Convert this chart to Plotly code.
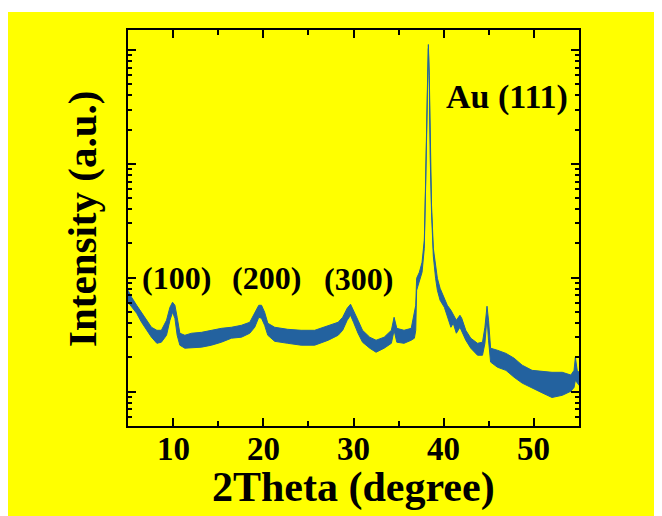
import plotly.graph_objects as go

# ---- data (2Theta in degrees, intensity in a.u.) ----
two_theta = [5.0, 5.4, 5.96, 6.5, 7.07, 7.6, 8.2, 8.7, 9.27, 9.65, 9.94, 10.2, 10.45, 10.75,
             11.3, 12.05, 13.15, 14.25, 15.36, 16.47, 17.58, 18.5, 19.05, 19.5, 19.8, 20.15,
             20.5, 21.26, 22.7, 24.2, 25.7, 27.2, 28.3, 28.8, 29.3, 29.67, 30.0, 30.5, 31.0,
             31.8, 32.5, 33.4, 34.2, 34.5, 34.8, 35.6, 36.4, 36.75, 36.9, 37.0, 37.3, 37.6,
             37.85, 38.0, 38.1, 38.2, 38.3, 38.4, 38.5, 38.65, 38.85, 39.1, 39.3, 39.6, 40.07,
             40.4, 40.8, 41.06, 41.4, 41.8, 42.0, 42.45, 43.0, 43.75, 44.3, 44.57, 44.8, 44.97,
             45.2, 45.96, 46.9, 47.8, 48.7, 49.8, 51.0, 52.0, 53.15, 54.1, 54.45, 54.6, 54.8, 55.0]

intensity_upper = [77.7, 67.4, 57.4, 49.8, 42.4, 36.8, 34.6, 34.6, 42.4, 55.1, 61.0, 57.4, 45.0, 32.6,
                   31.3, 32.6, 33.2, 34.6, 36.0, 36.8, 38.3, 40.7, 48.8, 57.4, 57.4, 49.8,
                   39.9, 36.8, 35.3, 34.6, 34.6, 38.3, 40.7, 45.0, 54.0, 58.6, 51.9, 42.4, 34.6,
                   30.1, 28.3, 30.1, 34.6, 45.0, 36.0, 34.6, 36.0, 48.8, 57.4, 99.0, 111.8, 136.8,
                   213.3, 648, 1778, 5401, 11160, 5973, 1315, 433, 181.4, 121.2, 99.0, 80.9, 66.1,
                   57.4, 51.9, 46.9, 42.4, 46.9, 44.1, 34.6, 29.5, 26.6, 27.2, 36.8, 56.3, 42.4,
                   24.1, 23.1, 21.7, 19.7, 17.1, 15.4, 15.1, 14.8, 14.8, 14.0, 15.4, 20.1, 15.4, 14.8]

intensity_lower = [61.0, 55.1, 48.8, 40.7, 34.6, 30.1, 26.6, 27.2, 31.3, 42.4, 49.8, 44.1, 31.3, 25.6,
                   24.1, 24.1, 24.6, 25.6, 27.2, 29.5, 30.1, 32.6, 36.8, 45.0, 44.1, 38.3,
                   31.3, 27.7, 26.6, 25.6, 25.6, 28.3, 31.3, 34.6, 42.4, 46.9, 40.7, 32.6, 27.2,
                   24.1, 22.2, 24.1, 26.6, 34.6, 27.2, 26.6, 28.3, 29.5, 34.6, 77.7, 91.3, 111.8,
                   181.4, 585, 1607, 4883, 10295, 5401, 1188, 376, 154.5, 99.0, 77.7, 63.5, 55.1,
                   45.0, 36.8, 39.9, 32.6, 36.8, 34.6, 28.3, 24.1, 20.9, 20.9, 26.6, 45.0, 28.3,
                   18.2, 16.4, 15.4, 13.4, 11.9, 10.7, 9.7, 8.9, 9.3, 10.1, 10.9, 12.6, 11.9, 11.4]

x_ticks = [10, 20, 30, 40, 50]
x_tick_labels = ["10", "20", "30", "40", "50"]
x_minor = [15, 25, 35, 45, 55]
y_major = [10, 100, 1000, 10000]
y_minor = [m * d for d in (1, 10, 100, 1000) for m in range(2, 10)]

peak_labels = ["(100)", "(200)", "(300)", "Au (111)"]

BLUE = "#23629F"
YELLOW = "#FFFF00"
FONT = "Liberation Serif"

fig = go.Figure()
fig.add_trace(go.Scatter(
    x=two_theta + two_theta[::-1],
    y=intensity_upper + intensity_lower[::-1],
    mode="lines", fill="toself", fillcolor=BLUE,
    line=dict(color=BLUE, width=1),
    hoverinfo="skip", showlegend=False,
))

fig.update_layout(
    width=662, height=516,
    margin=dict(l=120, r=91, t=22, b=98),
    paper_bgcolor=YELLOW,
    plot_bgcolor=YELLOW,
    showlegend=False,
    xaxis=dict(
        range=[5, 55], tickmode="array", tickvals=x_ticks, showticklabels=False,
        ticks="inside", ticklen=8, tickwidth=2, tickcolor="black",
        showline=True, linecolor="black", linewidth=2, mirror="ticks",
        showgrid=False, zeroline=False,
        minor=dict(tickmode="array", tickvals=x_minor,
                   ticks="inside", ticklen=5, tickwidth=2, tickcolor="black", showgrid=False),
    ),
    yaxis=dict(
        type="log", range=[0.699, 4.175], tickmode="array", tickvals=y_major,
        showticklabels=False,
        ticks="inside", ticklen=8, tickwidth=2, tickcolor="black",
        showline=True, linecolor="black", linewidth=2, mirror="ticks",
        showgrid=False, zeroline=False,
        minor=dict(tickmode="array", tickvals=y_minor,
                   ticks="inside", ticklen=4, tickwidth=1.5, tickcolor="black", showgrid=False),
    ),
    shapes=[dict(type="rect", xref="paper", yref="paper",
                 x0=-0.3, x1=1.3, y0=1.0455, y1=1.07,
                 fillcolor="white", line=dict(width=0), layer="below")],
)

# x tick labels
for v, lab in zip(x_ticks, x_tick_labels):
    fig.add_annotation(text=lab, x=v, y=-0.0593, xref="x", yref="paper",
                       showarrow=False, xanchor="center", yanchor="middle",
                       height=26, valign="middle", borderpad=0,
                       font=dict(family=FONT, size=33, color="black", weight="bold"))

ann_font = dict(family=FONT, size=32, color="black", weight="bold")
positions = [(0.108, 0.374), (0.308, 0.374), (0.510, 0.371), (0.841, 0.830)]
for txt, (px, py) in zip(peak_labels, positions):
    f = dict(ann_font)
    if txt.startswith("Au"):
        f["size"] = 34
    fig.add_annotation(text=txt, x=px, y=py, xref="paper", yref="paper",
                       showarrow=False, xanchor="center", yanchor="middle", font=f)

fig.add_annotation(text="2Theta (degree)", x=0.5, y=-0.154, xref="paper", yref="paper",
                   showarrow=False, xanchor="center", yanchor="middle",
                   height=46, valign="middle", borderpad=0,
                   font=dict(family=FONT, size=42, color="black", weight="bold"))
fig.add_annotation(text="Intensity (a.u.)", x=-0.102, y=0.523, xref="paper", yref="paper",
                   showarrow=False, xanchor="center", yanchor="middle", textangle=-90,
                   font=dict(family=FONT, size=41, color="black", weight="bold"))

fig.write_html("out.html")
